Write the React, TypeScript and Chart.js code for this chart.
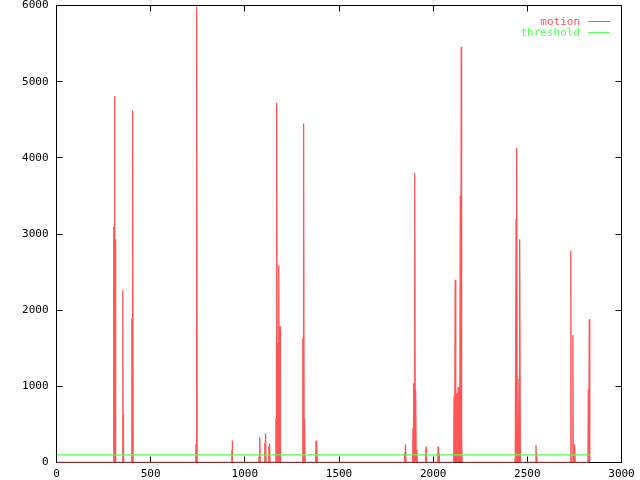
import React, { useEffect, useRef } from "react";
import { Chart, registerables } from "chart.js";

Chart.register(...registerables);

// Frame numbers of non-zero motion readings and their values
const motionX = [
  303, 308, 313, 352, 356, 400, 405, 740, 745,
  931, 934, 1075, 1080, 1106, 1111, 1127, 1132,
  1165, 1170, 1175, 1181, 1187, 1308, 1313, 1318, 1378, 1383,
  1849, 1854, 1893, 1898, 1903, 1908, 1914, 1962, 2026, 2031,
  2111, 2117, 2123, 2128, 2133, 2138, 2144, 2149, 2152,
  2434, 2440, 2445, 2450, 2456, 2461, 2546, 2550,
  2731, 2742, 2747, 2752, 2824, 2829,
];
const motionY = [
  3100, 4810, 2930, 2260, 630, 1890, 4620, 240, 5980,
  160, 290, 80, 330, 260, 380, 210, 250,
  580, 4720, 1570, 2590, 1790, 1630, 4450, 570, 290, 220,
  130, 240, 460, 1040, 3800, 950, 170, 210, 210, 120,
  870, 2400, 910, 540, 990, 200, 3510, 5460, 300,
  50, 3200, 4130, 30, 1100, 2930, 230, 130,
  2780, 1670, 170, 240, 960, 1880,
];
const frameStart = 0;
const frameEnd = 2832;
const thresholdValue = 100;

const xTicks = [0, 500, 1000, 1500, 2000, 2500, 3000];
const yTicks = [0, 1000, 2000, 3000, 4000, 5000, 6000];

const seriesLabels = ["motion", "threshold"];
const seriesColors = ["#ff5555", "#55ff55"];

const FONT = "'DejaVu Sans Mono', monospace";

function buildMotion() {
  const pts: { x: number; y: number }[] = [{ x: frameStart, y: 0 }];
  for (let i = 0; i < motionX.length; i++) {
    pts.push({ x: motionX[i] - 2, y: 0 });
    pts.push({ x: motionX[i], y: motionY[i] });
    pts.push({ x: motionX[i] + 2, y: 0 });
  }
  pts.push({ x: frameEnd, y: 0 });
  return pts;
}

const framePlugin = {
  id: "gnuframe",
  beforeDatasetsDraw(chart: any) {
    const { ctx, chartArea } = chart;
    const { left, right, top, bottom } = chartArea;
    const xs = chart.scales.x;
    const ys = chart.scales.y;
    ctx.save();
    ctx.strokeStyle = "#000";
    ctx.lineWidth = 1;
    ctx.beginPath();
    const L = Math.floor(left) + 0.5;
    const R = Math.floor(right) + 0.5;
    const T = Math.floor(top) + 0.5;
    const B = Math.floor(bottom) + 0.5;
    ctx.rect(L, T, R - L, B - T);
    const tl = 6;
    xTicks.forEach((v) => {
      const px = Math.floor(xs.getPixelForValue(v)) + 0.5;
      ctx.moveTo(px, B);
      ctx.lineTo(px, B - tl);
      ctx.moveTo(px, T);
      ctx.lineTo(px, T + tl);
    });
    yTicks.forEach((v) => {
      const py = Math.floor(ys.getPixelForValue(v)) + 0.5;
      ctx.moveTo(L, py);
      ctx.lineTo(L + tl, py);
      ctx.moveTo(R, py);
      ctx.lineTo(R - tl, py);
    });
    ctx.stroke();
    ctx.restore();
  },
  afterDraw(chart: any) {
    const { ctx } = chart;
    ctx.save();
    ctx.font = "11px " + FONT;
    ctx.textAlign = "right";
    ctx.textBaseline = "middle";
    chart.data.datasets.forEach((ds: any, i: number) => {
      const y = 21.5 + i * 11;
      ctx.fillStyle = ds.borderColor;
      ctx.fillText(ds.label, 580, y + 1);
      ctx.strokeStyle = ds.borderColor;
      ctx.lineWidth = 1;
      ctx.beginPath();
      ctx.moveTo(588, y);
      ctx.lineTo(610, y);
      ctx.stroke();
    });
    ctx.restore();
  },
};

export default function App() {
  const ref = useRef<HTMLCanvasElement>(null);
  useEffect(() => {
    if (!ref.current) return;
    const chart = new Chart(ref.current, {
      type: "line",
      data: {
        datasets: [
          {
            label: seriesLabels[0],
            data: buildMotion(),
            borderColor: seriesColors[0],
            backgroundColor: seriesColors[0],
            borderWidth: 1.3,
            pointRadius: 0,
            tension: 0,
            order: 1,
          },
          {
            label: seriesLabels[1],
            data: [
              { x: frameStart, y: thresholdValue },
              { x: frameEnd, y: thresholdValue },
            ],
            borderColor: seriesColors[1],
            backgroundColor: seriesColors[1],
            borderWidth: 1.3,
            pointRadius: 0,
            tension: 0,
            order: 0,
          },
        ],
      },
      options: {
        animation: false,
        responsive: false,
        devicePixelRatio: 1,
        layout: { padding: { top: 5.5, right: 18.5, left: 0, bottom: 0 } },
        plugins: { legend: { display: false }, tooltip: { enabled: false } },
        scales: {
          x: {
            type: "linear",
            min: 0,
            max: 3000,
            afterBuildTicks: (s: any) => {
              s.ticks = xTicks.map((v) => ({ value: v }));
            },
            afterFit: (s: any) => {
              s.height = 17.5;
              s.paddingLeft = 0;
              s.paddingRight = 0;
            },
            grid: { display: false, drawTicks: false },
            border: { display: false },
            ticks: {
              color: "#000",
              font: { family: FONT, size: 11 },
              padding: 5,
              maxRotation: 0,
              autoSkip: false,
              callback: (v: any) => String(v),
            },
          },
          y: {
            type: "linear",
            min: 0,
            max: 6000,
            afterBuildTicks: (s: any) => {
              s.ticks = yTicks.map((v) => ({ value: v }));
            },
            afterFit: (s: any) => {
              s.width = 56.5;
              s.paddingTop = 0;
              s.paddingBottom = 0;
            },
            grid: { display: false, drawTicks: false },
            border: { display: false },
            ticks: {
              color: "#000",
              font: { family: FONT, size: 11 },
              padding: 8,
              autoSkip: false,
              callback: (v: any) => String(v),
            },
          },
        },
      },
      plugins: [framePlugin],
    });
    return () => chart.destroy();
  }, []);
  return (
    <div style={{ position: "absolute", left: 0, top: 0, width: 640, height: 480, background: "#fff" }}>
      <canvas ref={ref} width={640} height={480} style={{ display: "block" }} />
    </div>
  );
}
